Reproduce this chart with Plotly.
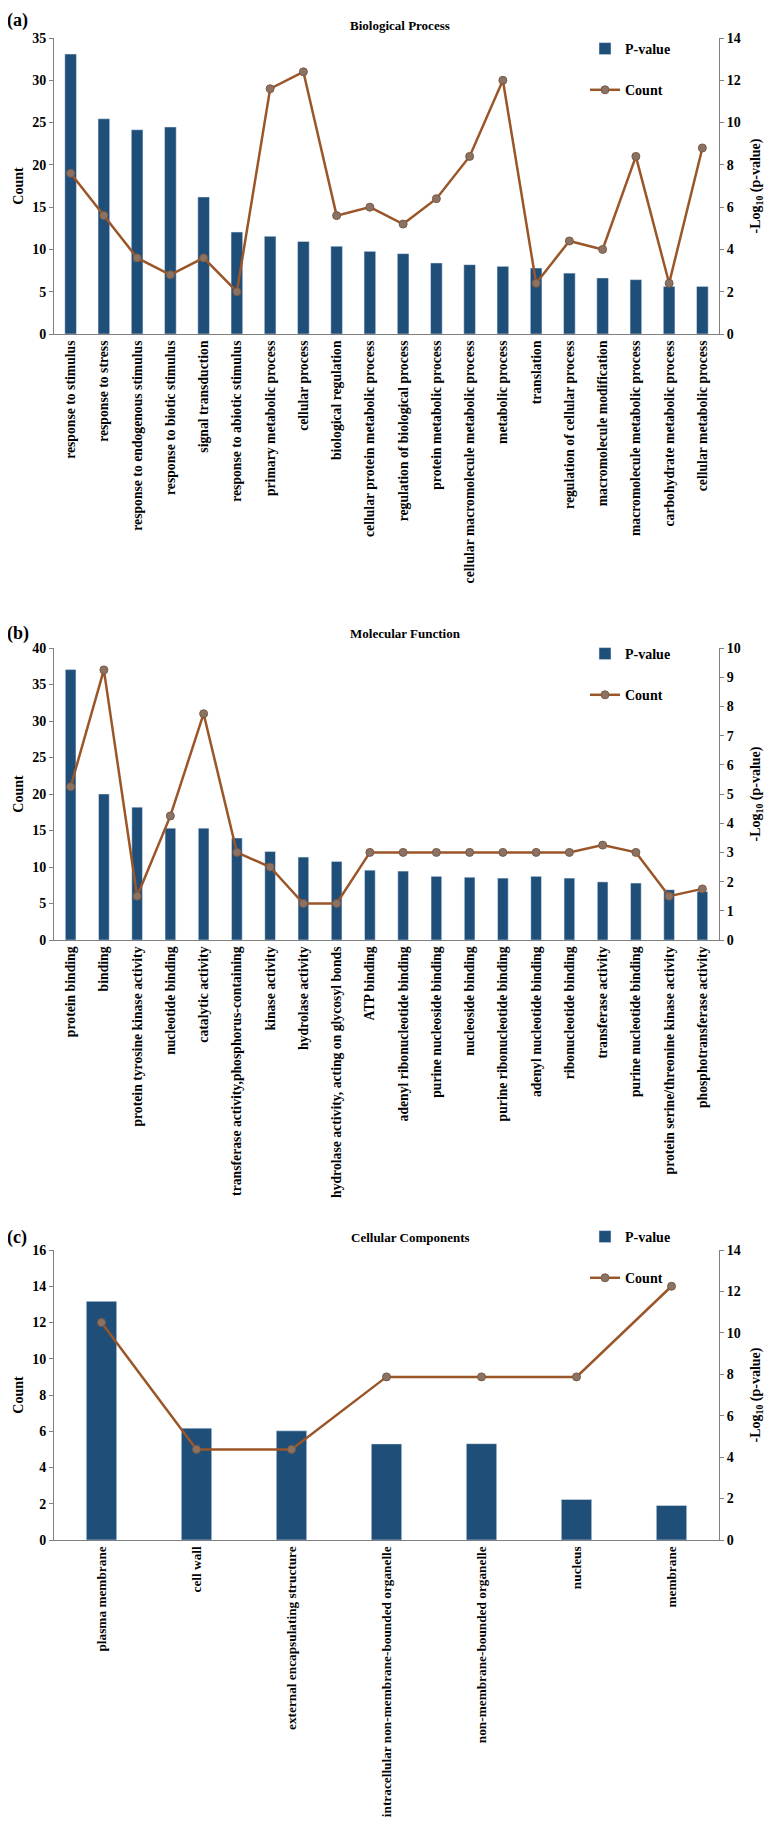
import plotly.graph_objects as go

# GO enrichment, three panels: bars = -log10(p-value), line = gene count
bp_terms = [
    "response to stimulus", "response to stress", "response to endogenous stimulus",
    "response to biotic stimulus", "signal transduction", "response to abiotic stimulus",
    "primary metabolic process", "cellular process", "biological regulation",
    "cellular protein metabolic process", "regulation of biological process",
    "protein metabolic process", "cellular macromolecule metabolic process",
    "metabolic process", "translation", "regulation of cellular process",
    "macromolecule modification", "macromolecule metabolic process",
    "carbohydrate metabolic process", "cellular metabolic process",
]
bp_pvalue = [13.24, 10.18, 9.66, 9.79, 6.48, 4.82, 4.62, 4.38, 4.15, 3.91,
             3.80, 3.36, 3.28, 3.20, 3.12, 2.88, 2.65, 2.57, 2.25, 2.25]
bp_count = [19, 14, 9, 7, 9, 5, 29, 31, 14, 15, 13, 16, 21, 30, 6, 11, 10, 21, 6, 22]

mf_terms = [
    "protein binding", "binding", "protein tyrosine kinase activity", "nucleotide binding",
    "catalytic activity", "transferase activity,phosphorus-containing", "kinase activity",
    "hydrolase activity", "hydrolase activity, acting on glycosyl bonds", "ATP binding",
    "adenyl ribonucleotide binding", "purine nucleoside binding", "nucleoside binding",
    "purine ribonucleotide binding", "adenyl nucleotide binding", "ribonucleotide binding",
    "transferase activity", "purine nucleotide binding",
    "protein serine/threonine kinase activity", "phosphotransferase activity",
]
mf_pvalue = [9.26, 5.0, 4.55, 3.83, 3.83, 3.49, 3.03, 2.84, 2.69, 2.39,
             2.36, 2.18, 2.15, 2.12, 2.18, 2.12, 1.99, 1.95, 1.72, 1.66]
mf_count = [21, 37, 6, 17, 31, 12, 10, 5, 5, 12, 12, 12, 12, 12, 12, 12, 13, 12, 6, 7]

cc_terms = [
    "plasma membrane", "cell wall", "external encapsulating structure",
    "intracellular non-membrane-bounded organelle", "non-membrane-bounded organelle",
    "nucleus", "membrane",
]
cc_pvalue = [11.52, 5.40, 5.27, 4.64, 4.65, 1.96, 1.67]
cc_count = [12, 5, 5, 9, 9, 9, 14]

BAR = "#1F4E79"
LINE = "#9A5628"
MARK = "#8B7262"
AXIS = "#808080"
FONT = "Liberation Serif"

# page body has an 8px margin, so the figure is drawn 8px in from the window edge
OFF = 8
W, H = 774 - OFF, 1829 - 2 * OFF
ML, MR, MT = 54 - OFF, W - (719 - OFF), 38 - OFF
MB = H - (1540 - OFF)
PH = H - MT - MB
PW = W - ML - MR


def py(pix):
    # window pixel row -> paper y
    return (1540 - pix) / PH


def px(pix):
    # window pixel column -> paper x
    return (pix - 54) / PW


fig = go.Figure()

panels = [
    ("(a)", "Biological Process", bp_terms, bp_pvalue, bp_count,
     (38, 334), (0, 35, 5), (0, 14, 2), 0.35, 26, 400, 33, 8, "top", 13.7),
    ("(b)", "Molecular Function", mf_terms, mf_pvalue, mf_count,
     (648, 940), (0, 40, 5), (0, 10, 1), 0.32, 633, 406, 638, 633, "middle", 13.7),
    ("(c)", "Cellular Components", cc_terms, cc_pvalue, cc_count,
     (1250, 1540), (0, 16, 2), (0, 14, 2), 0.32, 1237, 410, 1221, 1237, "middle", 13.3),
]

layout = {}
annotations = []
for i, (tag, title, terms, pval, cnt, (top, bot), lax, rax, bw,
        ty, tx, legtop, tagy, taganchor, catsize) in enumerate(panels):
    n = i + 1
    xa = "x" if n == 1 else f"x{n}"
    yr = f"y{2 * n - 1}" if n > 1 else "y"
    yl = f"y{2 * n}"
    leg = "legend" if n == 1 else f"legend{n}"

    fig.add_trace(go.Bar(
        x=terms, y=pval, name="P-value", marker_color=BAR, width=bw,
        xaxis=xa, yaxis=yr, legend=leg, legendgroup=f"p{n}",
    ))
    fig.add_trace(go.Scatter(
        x=terms, y=cnt, name="Count", mode="lines+markers",
        line=dict(color=LINE, width=2.5),
        marker=dict(color=MARK, size=8, line=dict(color="#7A5A45", width=1)),
        xaxis=xa, yaxis=yl, legend=leg, legendgroup=f"c{n}",
    ))

    dom = [py(bot), py(top)]
    xkey = "xaxis" if n == 1 else f"xaxis{n}"
    yrkey = "yaxis" if n == 1 else f"yaxis{2 * n - 1}"
    ylkey = f"yaxis{2 * n}"
    layout[xkey] = dict(
        domain=[0, 1], anchor=yr, type="category", tickangle=-90, automargin=False,
        range=[-0.5, len(terms) - 0.5],
        showline=True, linecolor=AXIS, linewidth=1, ticks="", showgrid=False,
        tickfont=dict(size=catsize, family=FONT, color="black", weight="bold"),
    )
    layout[yrkey] = dict(
        domain=dom, anchor=xa, side="right", range=[rax[0], rax[1]], automargin=False,
        tick0=0, dtick=rax[2], showline=True, linecolor=AXIS, linewidth=1,
        ticks="outside", ticklen=4, tickcolor=AXIS, showgrid=False, zeroline=False,
        tickfont=dict(size=14, family=FONT, color="black", weight="bold"),
        title=dict(text="-Log<sub>10</sub> (p-value)",
                   font=dict(size=14, family=FONT, color="black", weight="bold"),
                   standoff=10),
    )
    layout[ylkey] = dict(
        domain=dom, anchor=xa, side="left", overlaying=yr, range=[lax[0], lax[1]],
        automargin=False,
        tick0=0, dtick=lax[2], showline=True, linecolor=AXIS, linewidth=1,
        ticks="outside", ticklen=4, tickcolor=AXIS, showgrid=False, zeroline=False,
        tickfont=dict(size=14, family=FONT, color="black", weight="bold"),
        title=dict(text="Count",
                   font=dict(size=14, family=FONT, color="black", weight="bold"),
                   standoff=5),
    )
    layout[leg] = dict(
        x=px(585), y=py(legtop), xanchor="left", yanchor="top",
        bgcolor="rgba(0,0,0,0)", tracegroupgap=20, traceorder="grouped",
        font=dict(size=14, family=FONT, color="black", weight="bold"),
    )
    annotations.append(dict(
        text=title, x=px(tx), y=py(ty), xref="paper", yref="paper",
        xanchor="center", yanchor="middle", showarrow=False,
        font=dict(size=13, family=FONT, color="black", weight="bold"),
    ))
    annotations.append(dict(
        text=tag, x=px(5), y=py(tagy), xref="paper", yref="paper",
        xanchor="left", yanchor=taganchor, showarrow=False,
        font=dict(size=18, family=FONT, color="black", weight="bold"),
    ))

fig.update_layout(
    width=W, height=H,
    margin=dict(l=ML, r=MR, t=MT, b=MB, autoexpand=False),
    paper_bgcolor="white", plot_bgcolor="white",
    font=dict(family=FONT, color="black", weight="bold"),
    annotations=annotations,
    showlegend=True,
    **layout,
)

fig.write_html("out.html")
